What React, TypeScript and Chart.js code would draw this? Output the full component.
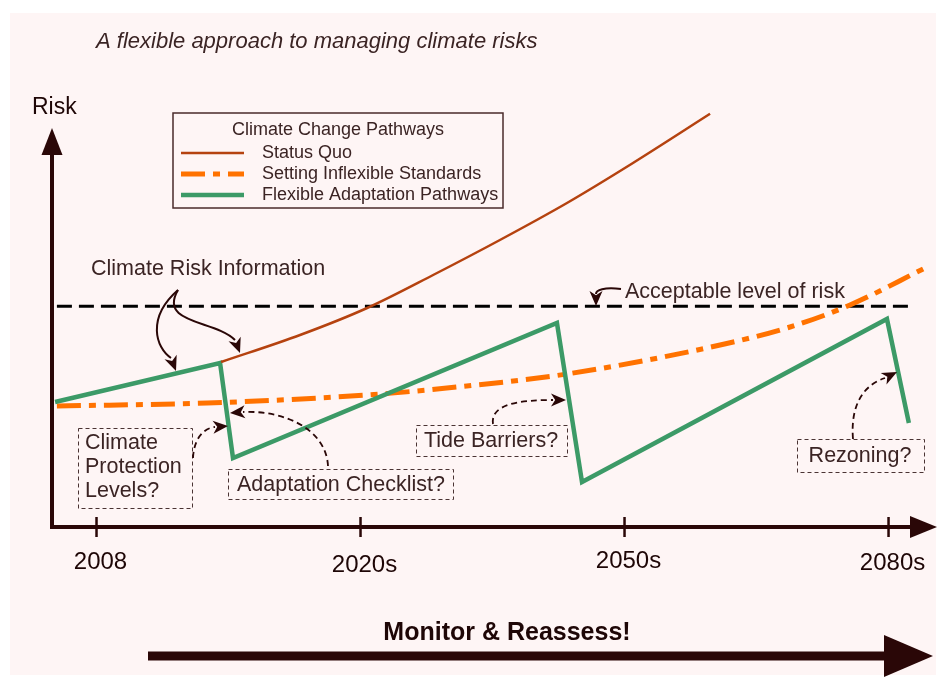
import React, { useEffect, useRef } from "react";
import { Chart, registerables } from "chart.js";

Chart.register(...registerables);

// ---- data (x: period index, 2008 = 0 ... 2080s = 3; y: risk level) ----
const tickValues = [0, 1, 2, 3];
const tickLabels = ["2008", "2020s", "2050s", "2080s"];

const statusQuoX = [0.472, 0.771, 1.025, 1.275, 1.528, 1.782, 2.032, 2.324];
const statusQuoY = [4.125, 4.8, 5.475, 6.3, 7.175, 8.1, 9.1, 10.33];

const inflexibleX = [-0.15, 0.419, 1.025, 1.366, 1.782, 2.362, 2.627, 2.854, 3.138];
const inflexibleY = [3.025, 3.1, 3.3, 3.5, 3.825, 4.55, 5.0, 5.55, 6.475];

const flexibleX = [-0.157, 0.468, 0.517, 1.744, 1.839, 2.994, 3.077];
const flexibleY = [3.125, 4.1, 1.725, 5.1, 1.125, 5.2, 2.6];

const acceptableX = [-0.15, 3.08];
const acceptableY = [5.52, 5.52];

const seriesLabels = ["Status Quo", "Setting Inflexible Standards", "Flexible Adaptation Pathways"];

const zip = (xs: number[], ys: number[]) => xs.map((x, i) => ({ x, y: ys[i] }));

const FONT = '"Liberation Sans", Arial, Helvetica, sans-serif';
const TEXT = "#3b2424";
const DARK = "#2a0707";

function head(ctx: CanvasRenderingContext2D, x: number, y: number, ang: number, len: number, half: number) {
  const c = Math.cos(ang), s = Math.sin(ang);
  ctx.beginPath();
  ctx.moveTo(x, y);
  ctx.lineTo(x - len * c + half * s, y - len * s - half * c);
  ctx.lineTo(x - len * c * 0.72, y - len * s * 0.72);
  ctx.lineTo(x - len * c - half * s, y - len * s + half * c);
  ctx.closePath();
  ctx.fill();
}

function curveArrow(
  ctx: CanvasRenderingContext2D,
  pts: number[],
  tip: [number, number],
  dashed: boolean,
  width = 1.8
) {
  ctx.save();
  ctx.strokeStyle = DARK;
  ctx.fillStyle = DARK;
  ctx.lineWidth = width;
  ctx.setLineDash(dashed ? [6, 4] : []);
  ctx.beginPath();
  ctx.moveTo(pts[0], pts[1]);
  ctx.bezierCurveTo(pts[2], pts[3], pts[4], pts[5], pts[6], pts[7]);
  ctx.stroke();
  ctx.setLineDash([]);
  const ang = Math.atan2(tip[1] - pts[7], tip[0] - pts[6]);
  head(ctx, tip[0], tip[1], ang, 15, 6.5);
  ctx.restore();
}

function dashedBox(ctx: CanvasRenderingContext2D, x: number, y: number, w: number, h: number) {
  ctx.save();
  ctx.strokeStyle = "#4a3333";
  ctx.lineWidth = 1;
  ctx.setLineDash([4, 3]);
  ctx.strokeRect(x + 0.5, y + 0.5, w, h);
  ctx.restore();
}

const decor = {
  id: "decor",
  beforeDraw(chart: any) {
    const ctx = chart.ctx as CanvasRenderingContext2D;
    ctx.save();
    ctx.fillStyle = "#ffffff";
    ctx.fillRect(0, 0, chart.width, chart.height);
    ctx.fillStyle = "#fef5f5";
    ctx.fillRect(10, 13, 926, 662);
    ctx.restore();
  },
  afterDatasetsDraw(chart: any) {
    const ctx = chart.ctx as CanvasRenderingContext2D;
    const xs = chart.scales.x;
    const ys = chart.scales.y;
    const ox = xs.left;
    const oy = ys.getPixelForValue(0);

    ctx.save();
    // ---- title ----
    ctx.fillStyle = TEXT;
    ctx.textBaseline = "middle";
    ctx.textAlign = "left";
    ctx.font = `italic 22px ${FONT}`;
    ctx.fillText("A flexible approach to managing climate risks", 96, 42);

    // ---- axes ----
    ctx.strokeStyle = DARK;
    ctx.fillStyle = DARK;
    ctx.lineWidth = 4;
    ctx.lineCap = "butt";
    ctx.beginPath();
    ctx.moveTo(ox, oy + 2);
    ctx.lineTo(ox, 150);
    ctx.stroke();
    ctx.beginPath();
    ctx.moveTo(ox, 128);
    ctx.lineTo(ox - 10.5, 155);
    ctx.lineTo(ox + 10.5, 155);
    ctx.closePath();
    ctx.fill();

    ctx.beginPath();
    ctx.moveTo(ox - 2, oy);
    ctx.lineTo(914, oy);
    ctx.stroke();
    ctx.beginPath();
    ctx.moveTo(937, oy);
    ctx.lineTo(910, oy - 11);
    ctx.lineTo(910, oy + 11);
    ctx.closePath();
    ctx.fill();

    ctx.lineWidth = 2.5;
    const labelDy = [0, 3, -1, 1];
    tickValues.forEach((v, i) => {
      const px = xs.getPixelForValue(v);
      ctx.beginPath();
      ctx.moveTo(px, oy - 10);
      ctx.lineTo(px, oy + 10);
      ctx.stroke();
      ctx.fillStyle = "#1e0606";
      ctx.font = `24px ${FONT}`;
      ctx.textAlign = "center";
      ctx.fillText(tickLabels[i], px + 4, oy + 35 + labelDy[i]);
    });

    // ---- Risk label ----
    ctx.fillStyle = "#1e0606";
    ctx.textAlign = "left";
    ctx.font = `23px ${FONT}`;
    ctx.fillText("Risk", 32, 108);

    // ---- legend ----
    ctx.strokeStyle = "#4a2a2a";
    ctx.lineWidth = 1.5;
    ctx.strokeRect(173, 113, 330, 95);
    ctx.fillStyle = TEXT;
    ctx.font = `18px ${FONT}`;
    ctx.textAlign = "center";
    ctx.fillText("Climate Change Pathways", 338, 130);
    const rowsY = [153, 174, 195];
    for (let i = 0; i < 3; i++) {
      const ds = chart.data.datasets[i];
      ctx.save();
      ctx.strokeStyle = ds.borderColor;
      ctx.lineWidth = ds.borderWidth;
      ctx.setLineDash(ds.borderDash || []);
      ctx.beginPath();
      ctx.moveTo(181, rowsY[i]);
      ctx.lineTo(244, rowsY[i]);
      ctx.stroke();
      ctx.restore();
      ctx.fillStyle = TEXT;
      ctx.textAlign = "left";
      ctx.font = `18px ${FONT}`;
      ctx.fillText(ds.label, 262, rowsY[i]);
    }

    // ---- annotations ----
    ctx.font = `21.5px ${FONT}`;
    ctx.fillStyle = TEXT;
    ctx.textAlign = "left";
    ctx.fillText("Climate Risk Information", 91, 269);
    ctx.fillText("Acceptable level of risk", 625, 292);

    curveArrow(ctx, [178, 290, 146, 318, 156, 348, 171, 358], [176, 371], false, 2);
    curveArrow(ctx, [178, 290, 158, 324, 215, 320, 235, 340], [240, 353], false, 2);
    curveArrow(ctx, [621, 289, 604, 287, 596, 290, 596, 294], [596, 306], false, 2);

    dashedBox(ctx, 78, 428, 114, 80);
    ctx.fillStyle = TEXT;
    ctx.textAlign = "left";
    ctx.fillText("Climate", 85, 443);
    ctx.fillText("Protection", 85, 467);
    ctx.fillText("Levels?", 85, 491);

    dashedBox(ctx, 228, 469, 225, 30);
    ctx.fillStyle = TEXT;
    ctx.textAlign = "center";
    ctx.fillText("Adaptation Checklist?", 341, 485);

    dashedBox(ctx, 416, 425, 151, 31);
    ctx.fillStyle = TEXT;
    ctx.fillText("Tide Barriers?", 491, 441);

    dashedBox(ctx, 797, 439, 127, 33);
    ctx.fillStyle = TEXT;
    ctx.fillText("Rezoning?", 860, 456);

    curveArrow(ctx, [193, 458, 194, 438, 204, 428, 215, 427], [228, 426], true);
    curveArrow(ctx, [328, 466, 326, 428, 282, 410, 243, 412], [230, 413], true);
    curveArrow(ctx, [493, 424, 490, 404, 520, 400, 553, 400], [566, 400], true);
    curveArrow(ctx, [853, 439, 850, 402, 866, 384, 885, 378], [897, 372], true);

    // ---- Monitor & Reassess ----
    ctx.fillStyle = "#1e0606";
    ctx.font = `bold 25px ${FONT}`;
    ctx.textAlign = "center";
    ctx.fillText("Monitor & Reassess!", 507, 633);
    ctx.strokeStyle = DARK;
    ctx.fillStyle = DARK;
    ctx.lineWidth = 9;
    ctx.beginPath();
    ctx.moveTo(148, 656);
    ctx.lineTo(888, 656);
    ctx.stroke();
    ctx.beginPath();
    ctx.moveTo(933, 656);
    ctx.lineTo(884, 635);
    ctx.lineTo(884, 677);
    ctx.closePath();
    ctx.fill();

    ctx.restore();
  },
};

export default function App() {
  const ref = useRef<HTMLCanvasElement | null>(null);
  useEffect(() => {
    if (!ref.current) return;
    const chart = new Chart(ref.current, {
      type: "line",
      data: {
        datasets: [
          {
            label: seriesLabels[0],
            data: zip(statusQuoX, statusQuoY),
            borderColor: "#b5420f",
            borderWidth: 2.5,
            pointRadius: 0,
            cubicInterpolationMode: "monotone",
            order: 1,
          },
          {
            label: seriesLabels[1],
            data: zip(inflexibleX, inflexibleY),
            borderColor: "#ff7200",
            borderWidth: 5,
            borderDash: [24, 8, 7, 8],
            pointRadius: 0,
            cubicInterpolationMode: "monotone",
            order: 3,
          },
          {
            label: seriesLabels[2],
            data: zip(flexibleX, flexibleY),
            borderColor: "#3c9a67",
            borderWidth: 4.5,
            pointRadius: 0,
            tension: 0,
            borderJoinStyle: "miter",
            order: 2,
          },
          {
            label: "Acceptable level of risk",
            data: zip(acceptableX, acceptableY),
            borderColor: "#000000",
            borderWidth: 3,
            borderDash: [15, 7],
            pointRadius: 0,
            order: 4,
          },
        ],
      } as any,
      options: {
        animation: false,
        responsive: false,
        events: [],
        layout: { padding: { left: 52, right: 3, top: 100, bottom: 150 } },
        plugins: { legend: { display: false }, tooltip: { enabled: false } },
        scales: {
          x: { type: "linear", display: false, min: -0.1686, max: 3.176 },
          y: { type: "linear", display: false, min: 0, max: 10.675 },
        },
      } as any,
      plugins: [decor],
    });
    return () => chart.destroy();
  }, []);
  return (
    <div style={{ position: "absolute", left: 0, top: 0, width: 938, height: 677 }}>
      <canvas ref={ref} width={938} height={677} style={{ display: "block" }} />
    </div>
  );
}
